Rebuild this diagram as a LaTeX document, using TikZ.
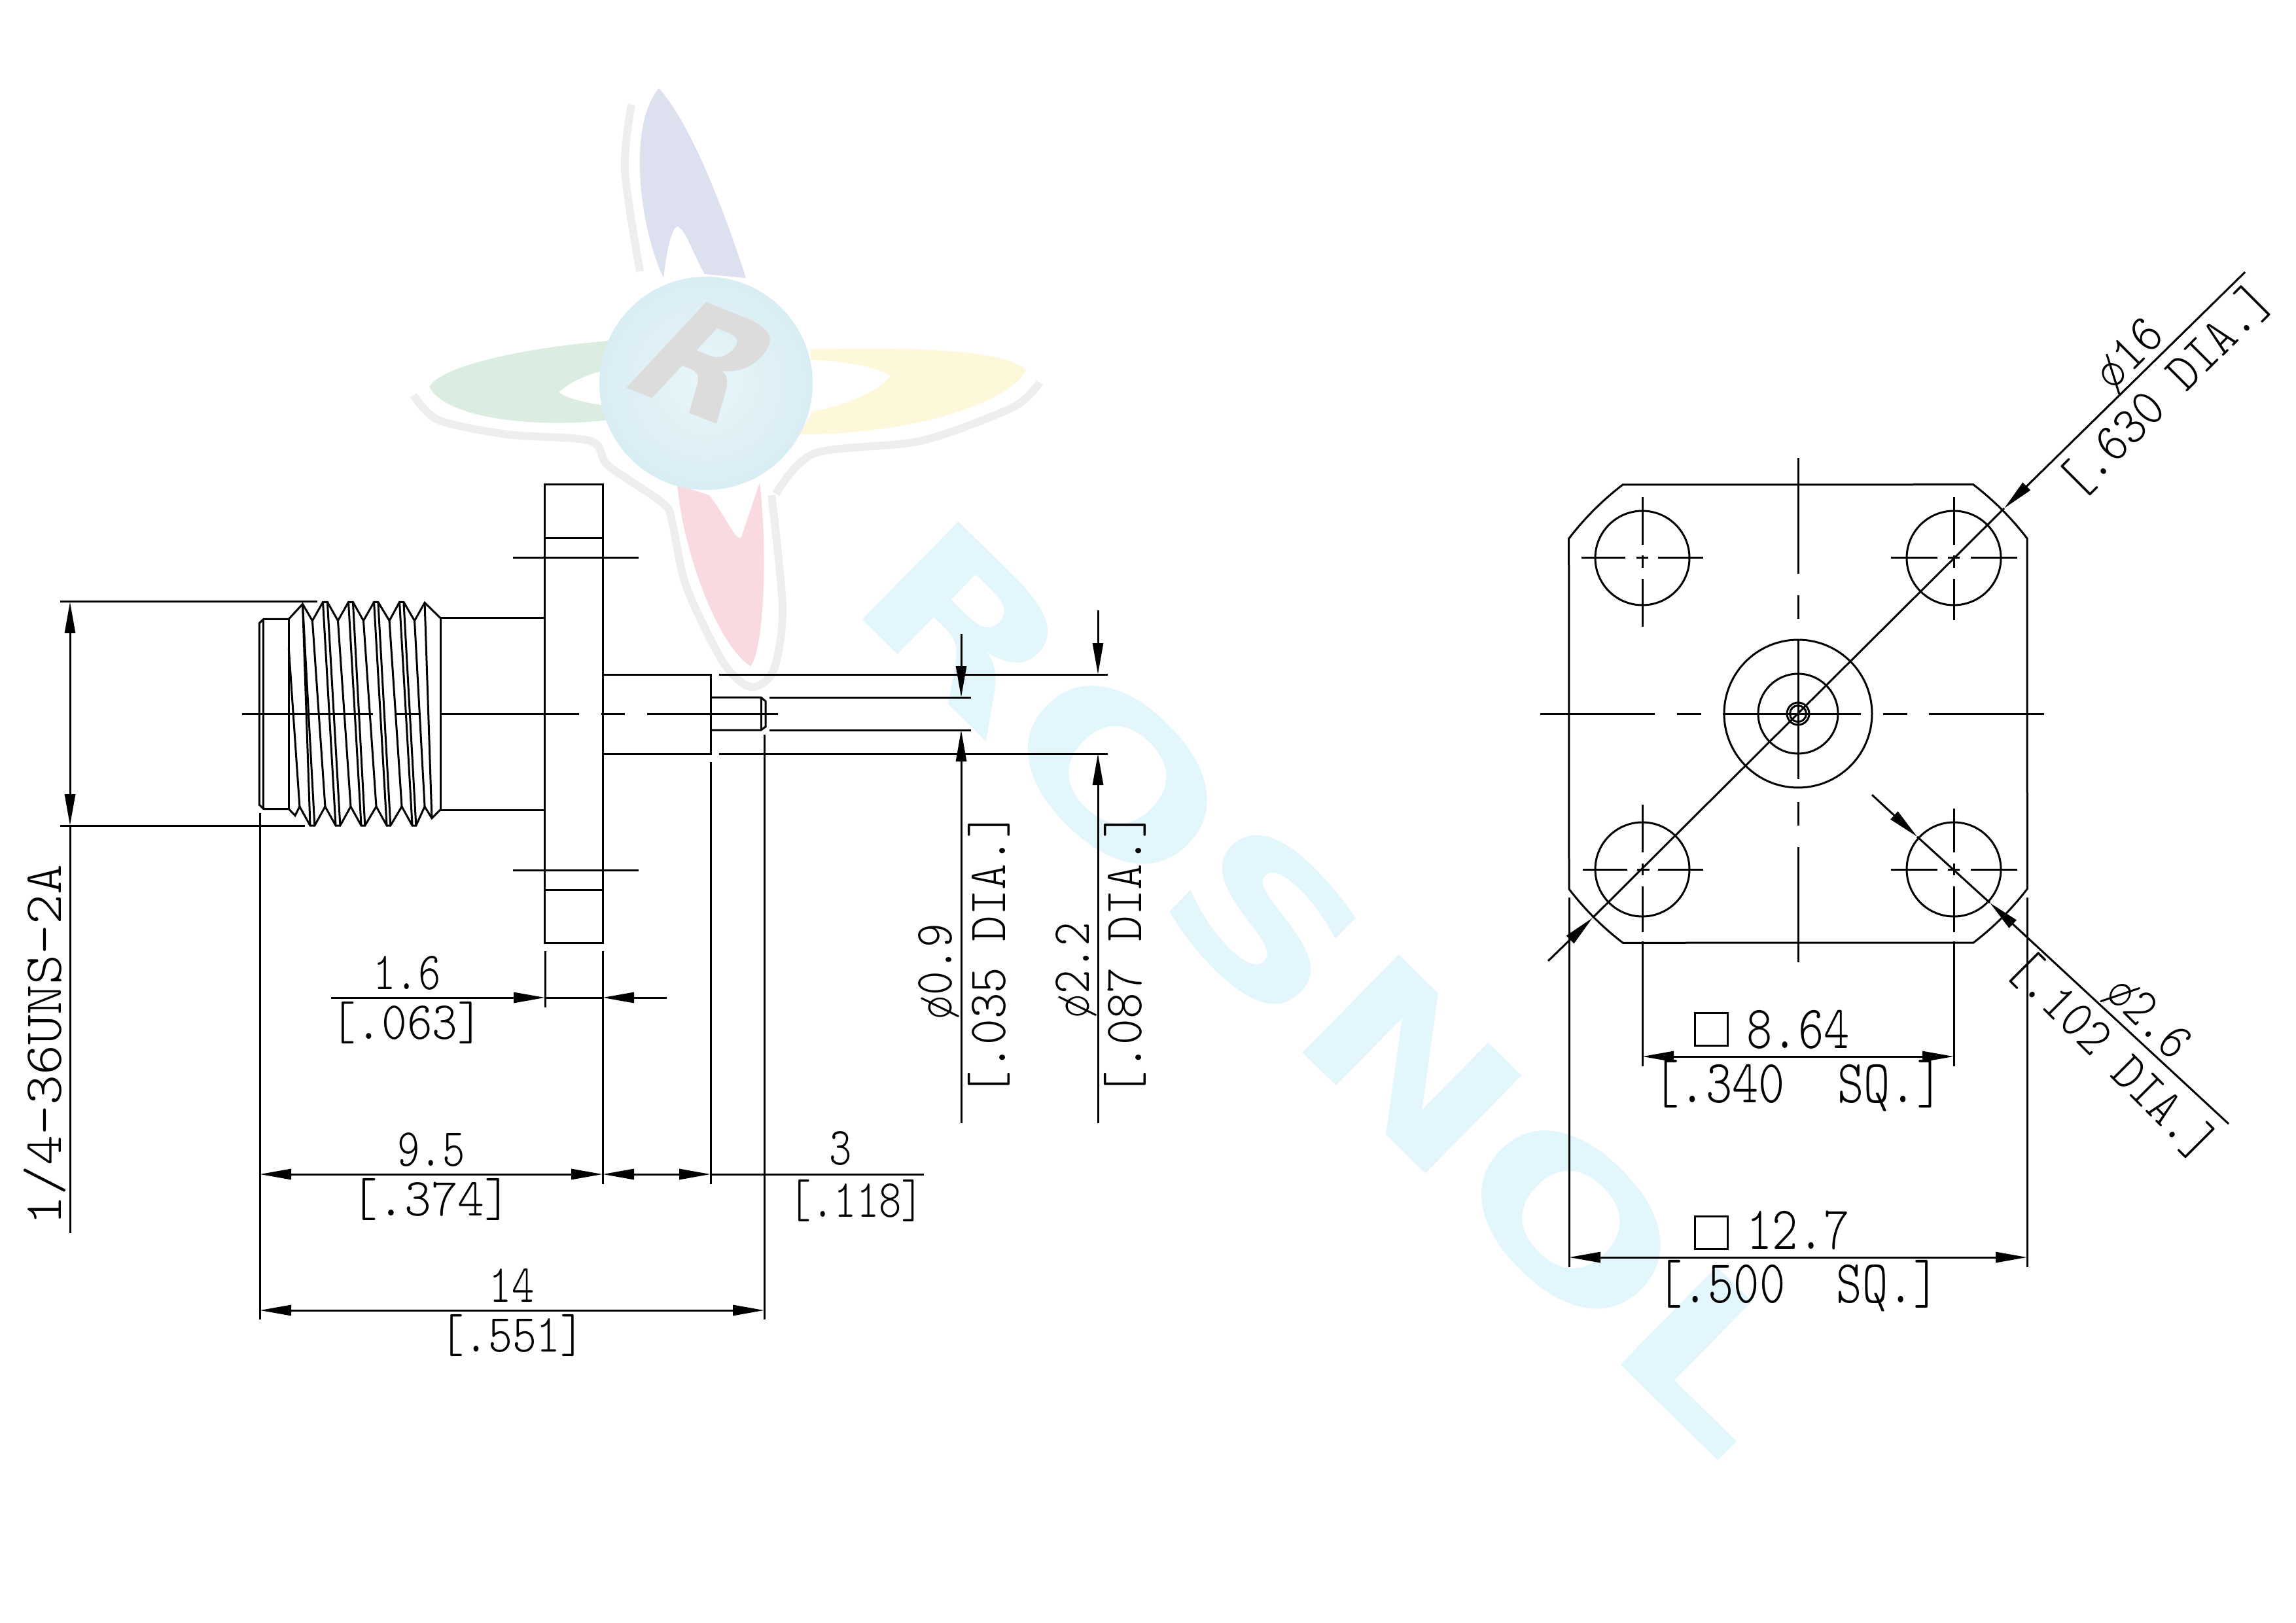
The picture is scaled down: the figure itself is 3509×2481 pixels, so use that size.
\documentclass[tikz,border=0pt]{standalone}
\usepackage{fontspec}
\usepackage{graphicx}
\usetikzlibrary{arrows.meta}
\newfontfamily\draftfont{Latin Modern Mono Light}
\newfontfamily\brandfont{DejaVu Sans}
\definecolor{petalblue}{RGB}{220,224,239}
\definecolor{petalgreen}{RGB}{219,236,224}
\definecolor{petalyellow}{RGB}{253,248,218}
\definecolor{petalred}{RGB}{249,218,224}
\definecolor{ballin}{RGB}{232,246,249}
\definecolor{ballout}{RGB}{217,237,244}
\definecolor{markgrey}{RGB}{220,220,220}
\definecolor{haloline}{RGB}{238,238,238}
\definecolor{brandcyan}{RGB}{226,246,252}
\newcommand{\fit}[2]{\scalebox{#1}[1]{#2}}
\newcommand{\dimsmall}{\draftfont\fontsize{23.3}{25}\selectfont}
\newcommand{\dimlarge}{\draftfont\fontsize{26.6}{28}\selectfont}
\tikzset{
  lbl/.style={font=\dimsmall,inner sep=0pt,text height=5mm,text depth=0pt},
  lblwide/.style={font=\dimlarge,inner sep=0pt,text height=5.7mm,text depth=0pt},
  sqmark/.style={draw,inner sep=0pt,minimum size=5mm},
  dim/.style={>={Triangle[length=4.8mm,width=1.6mm]}},
}
\begin{document}
\begin{tikzpicture}[x=0.1mm,y=-0.1mm,line width=0.3mm]
    \useasboundingbox (0,0) rectangle (3509,2481);
    \fill[white] (0,0) rectangle (3509,2481);
    % watermark
    \node[rotate=-44.5,text=brandcyan,inner sep=0pt] (brand) at (2036,1506)
        {\brandfont\bfseries\fontsize{82}{86}\selectfont\scalebox{1.4}[1]{ROSNOL}};
    \draw[haloline,line width=1.2mm,line join=round] plot[smooth] coordinates {(965,160) (955,260) (978,415)};
    \draw[haloline,line width=1.2mm,line join=round] plot[smooth] coordinates {(632,604) (670,642) (775,664) (902,674) (930,712) (1014,770) (1028,802) (1049,897) (1105,1012) (1147,1050) (1182,1025) (1196,930) (1179,757)};
    \draw[haloline,line width=1.2mm,line join=round] plot[smooth] coordinates {(1186,755) (1245,693) (1407,674) (1547,623) (1589,585)};
    \fill[petalblue] (1007,135) .. controls (1056,190) and (1105,317) .. (1140,425)
        -- (1077,419) .. controls (1060,390) and (1048,350) .. (1035,346)
        .. controls (1025,350) and (1018,390) .. (1014,425)
        .. controls (975,340) and (960,190) .. (1007,135) -- cycle;
    \fill[petalgreen] (656,591) .. controls (680,555) and (820,530) .. (930,521)
        -- (923,566) .. controls (890,575) and (870,585) .. (854,600)
        .. controls (870,610) and (900,618) .. (930,620) -- (930,642)
        .. controls (820,655) and (680,640) .. (656,591) -- cycle;
    \fill[petalyellow] (1568,566) .. controls (1540,535) and (1400,530) .. (1239,534)
        -- (1239,550) .. controls (1290,552) and (1340,560) .. (1361,575)
        .. controls (1340,600) and (1290,620) .. (1242,629) -- (1221,664)
        .. controls (1380,665) and (1540,620) .. (1568,566) -- cycle;
    \fill[petalred] (1035,741) .. controls (1045,850) and (1100,990) .. (1147,1018)
        .. controls (1165,1000) and (1175,860) .. (1161,738)
        -- (1133,821) .. controls (1125,830) and (1110,790) .. (1084,757) -- cycle;
    \shade[inner color=ballin,outer color=ballout] (1079,586) circle[radius=163];
    \begin{scope}[shift={(1080,552)}]
        \node[cm={0.85,-0.34,0.68,0.73,(0,0)},transform shape,text=markgrey,inner sep=0pt] (logoR) at (0,0)
            {\brandfont\bfseries\fontsize{70}{72}\selectfont R};
    \end{scope}
    % side view
    \draw (832,741) rectangle (921,1441);
    \draw (832,823) -- (921,823);
    \draw (832,1360) -- (921,1360);
    \draw (784,853) -- (976,853);
    \draw (784,1330) -- (976,1330);
    \draw (673,945) -- (832,945);
    \draw (673,1238) -- (832,1238);
    \draw (370,1091) -- (570,1091);
    \draw (604,1091) -- (640,1091);
    \draw (673,1091) -- (885,1091);
    \draw (919,1091) -- (955,1091);
    \draw (989,1091) -- (1189,1091);
    \draw (921,1031) -- (1086,1031) -- (1086,1152) -- (921,1152);
    \draw (1086,1066) -- (1163,1066) -- (1170,1072) -- (1170,1111) -- (1163,1116) -- (1086,1116);
    \draw (1163,1066) -- (1163,1116);
    \draw (1099,1031) -- (1693,1031);
    \draw (1099,1152) -- (1693,1152);
    \draw (1176,1066) -- (1484,1066);
    \draw (1176,1116) -- (1484,1116);
    % thread
    \begin{scope}[shift={(350,700)},xscale=0.574,yscale=0.51]
        \draw (159,483) -- (92,483) -- (81,495) -- (81,1040) -- (92,1052) -- (159,1052);
        \draw (92,483) -- (92,1052);
        \draw (159,483) -- (159,1052);
        \draw (563,480) -- (563,1054);
        \draw (159,483) -- (196,438) -- (222,488) -- (250,432) -- (262,432) -- (290,488) -- (318,432) -- (330,432)
            -- (358,488) -- (386,432) -- (397,432) -- (427,488) -- (454,432) -- (465,432) -- (494,488) -- (521,434) -- (563,480);
        \draw (159,1052) -- (176,1072) -- (188,1045) -- (216,1102) -- (228,1102) -- (256,1045) -- (284,1102) -- (296,1102)
            -- (324,1045) -- (352,1102) -- (362,1102) -- (392,1045) -- (420,1102) -- (430,1102) -- (460,1045) -- (488,1102)
            -- (498,1102) -- (521,1045) -- (540,1080) -- (563,1054);
        \draw (159,570) -- (188,1045);
        \draw (196,438) -- (216,1102);
        \draw (196,438) -- (228,1102);
        \foreach \a/\b in {250/284,262/296,318/352,330/362,386/420,397/430,454/488,465/498}
            \draw (\a,432) -- (\b,1102);
        \foreach \a/\b in {222/256,290/324,358/392,427/460,494/521}
            \draw (\a,488) -- (\b,1045);
        \draw (521,434) -- (540,1080);
    \end{scope}
    % side view dimensions
    \draw (92,920) -- (485,920);
    \draw (92,1262) -- (466,1262);
    \draw[dim,<->] (107,920) -- (107,1262);
    \draw (107,1262) -- (107,1885);
    \draw (397,1243) -- (397,2017);
    \draw (833,1454) -- (833,1540);
    \draw (921,1454) -- (921,1810);
    \draw (1086,1165) -- (1086,1810);
    \draw (1168,1123) -- (1168,2017);
    \draw[dim,->] (506,1525) -- (833,1525);
    \draw (833,1525) -- (921,1525);
    \draw[dim,->] (1019,1525) -- (921,1525);
    \draw[dim,<->] (397,1795) -- (921,1795);
    \draw[dim,<->] (921,1795) -- (1086,1795);
    \draw (1086,1795) -- (1412,1795);
    \draw[dim,<->] (397,2003) -- (1168,2003);
    \draw[dim,->] (1469,969) -- (1469,1066);
    \draw[dim,->] (1469,1717) -- (1469,1116);
    \draw[dim,->] (1678,933) -- (1678,1031);
    \draw[dim,->] (1678,1717) -- (1678,1152);
    \node[lbl,rotate=90] (thread) at (69,1597) {\fit{1.07}{1/4-36UNS-2A}};
    \node[lbl] (flangemm) at (622,1487) {\fit{.8}{1.6}};
    \node[lbl] (flangein) at (622,1563) {\fit{.9}{[.063]}};
    \node[lbl] (shellmm) at (659,1757) {\fit{.8}{9.5}};
    \node[lbl] (shellin) at (659,1833) {\fit{.95}{[.374]}};
    \node[lbl] (boss) at (1285,1755) {\fit{.8}{3}};
    \node[lbl] (bossin) at (1309,1835) {\fit{.8}{[.118]}};
    \node[lbl] (overall) at (782,1965) {\fit{.8}{14}};
    \node[lbl] (overallin) at (783,2041) {\fit{.86}{[.551]}};
    \node[lbl,rotate=90] (pinmm) at (1429,1485) {\fit{.85}{ø0.9}};
    \node[lbl,rotate=90] (pinin) at (1511,1459) {\fit{.92}{[.035 DIA.]}};
    \node[lbl,rotate=90] (dielmm) at (1639,1483) {\fit{.85}{ø2.2}};
    \node[lbl,rotate=90] (dielin) at (1719,1459) {\fit{.92}{[.087 DIA.]}};
    % front view
    \draw (2480,741) arc[start angle=232.6,end angle=217.4,radius=440] -- (2398,1359)
        arc[start angle=142.6,end angle=127.4,radius=440] -- (3016,1441)
        arc[start angle=52.6,end angle=37.4,radius=440] -- (3098,823)
        arc[start angle=-37.4,end angle=-52.6,radius=440] -- cycle;
    \draw (2748,1091) circle[radius=113];
    \draw (2748,1091) circle[radius=61];
    \draw (2748,1091) circle[radius=17];
    \draw (2748,1091) circle[radius=12.5];
    \foreach \cx/\cy in {2510/853,2986/853,2510/1329,2986/1329}
        \draw (\cx,\cy) circle[radius=72];
    \foreach \a/\b in {700/877,910/946,978/1191,1226/1262,1295/1471}
        \draw (2748,\a) -- (2748,\b);
    \foreach \a/\b in {2354/2529,2563/2600,2633/2844,2878/2915,2948/3124}
        \draw (\a,1091) -- (\b,1091);
    % hole centre lines
    \foreach \a/\b in {2417/2484,2501/2519,2534/2603}
        \draw (\a,853) -- (\b,853);
    \foreach \a/\b in {2890/2961,2977/2995,3012/3083}
        \draw (\a,853) -- (\b,853);
    \foreach \a/\b in {2419/2487,2502/2521,2534/2603}
        \draw (\a,1329) -- (\b,1329);
    \foreach \a/\b in {2890/2961,2977/2995,3012/3083}
        \draw (\a,1329) -- (\b,1329);
    \foreach \a/\b in {760/833,849/868,885/958}
        \draw (2510,\a) -- (2510,\b);
    \foreach \a/\b in {760/833,849/868,885/948}
        \draw (2986,\a) -- (2986,\b);
    \foreach \a/\b in {1230/1303,1320/1338,1355/1425,1439/1630}
        \draw (2510,\a) -- (2510,\b);
    \foreach \a/\b in {1236/1303,1320/1338,1355/1425,1439/1630}
        \draw (2986,\a) -- (2986,\b);
    % front view dimensions
    \draw (2398,1372) -- (2398,1937);
    \draw (3098,1372) -- (3098,1937);
    \draw[dim,<->] (2510,1615) -- (2986,1615);
    \draw[dim,<->] (2398,1922) -- (3098,1922);
    \draw[dim,->] (2366,1469) -- (2434,1403);
    \draw (2434,1403) -- (3063,777);
    \draw[dim,->] (3431,416) -- (3063,777);
    \draw[dim,->] (2861,1215) -- (2930,1279);
    \draw (2930,1279) -- (3041,1380);
    \draw[dim,->] (3406,1718) -- (3041,1380);
    \node[sqmark] (sqinner) at (2615,1573) {};
    \node[lblwide] (holesmm) at (2748,1574) {\fit{.8}{8.64}};
    \node[lblwide] (holesin) at (2748,1657) {\fit{.82}{[.340\ \ SQ.]}};
    \node[sqmark] (sqouter) at (2615,1884) {};
    \node[lblwide] (platemm) at (2748,1881) {\fit{.8}{12.7}};
    \node[lblwide] (platein) at (2748,1963) {\fit{.8}{[.500\ \ SQ.]}};
    \node[lbl,rotate=45] (circlemm) at (3252,540) {\fit{.9}{ø16}};
    \node[lbl,rotate=45] (circlein) at (3310,597) {\fit{.9}{[.630 DIA.]}};
    \node[lbl,rotate=-45] (holemm) at (3285,1554) {\fit{.85}{ø2.6}};
    \node[lbl,rotate=-45] (holein) at (3228,1613) {\fit{.88}{[.102 DIA.]}};
\end{tikzpicture}
\end{document}
